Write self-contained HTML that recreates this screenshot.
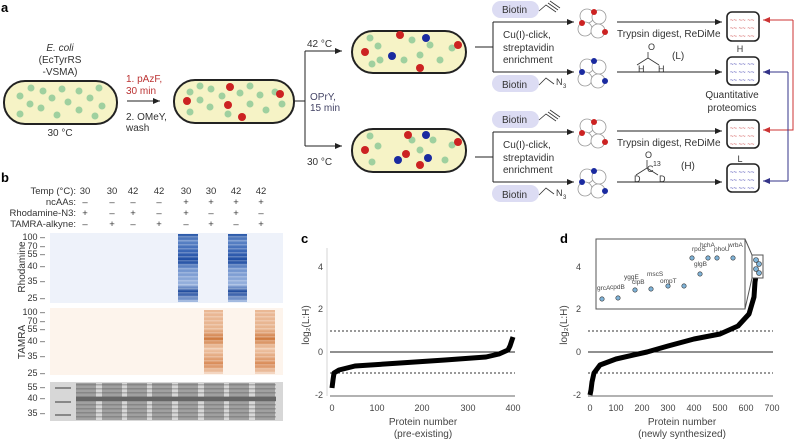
<!DOCTYPE html>
<html><head><meta charset="utf-8"><style>
html,body{margin:0;padding:0;background:#fff;}
svg{display:block;font-family:"Liberation Sans",sans-serif;}
</style></head><body>
<svg width="799" height="440" viewBox="0 0 799 440" xmlns="http://www.w3.org/2000/svg">
<defs>
<marker id="ar" markerWidth="8" markerHeight="8" refX="7" refY="4" orient="auto" markerUnits="userSpaceOnUse"><path d="M0,1 L7,4 L0,7z" fill="#222"/></marker>
<marker id="arR" markerWidth="8" markerHeight="8" refX="7" refY="4" orient="auto" markerUnits="userSpaceOnUse"><path d="M0,1 L7,4 L0,7z" fill="#c33"/></marker>
<marker id="arB" markerWidth="8" markerHeight="8" refX="7" refY="4" orient="auto" markerUnits="userSpaceOnUse"><path d="M0,1 L7,4 L0,7z" fill="#338"/></marker>
<pattern id="stripe" width="4" height="4" patternUnits="userSpaceOnUse"><rect width="4" height="1.5" fill="#fff" opacity=".25"/></pattern>
<pattern id="stripeD" width="4" height="4" patternUnits="userSpaceOnUse"><rect width="4" height="1.5" fill="#555" opacity=".35"/></pattern>
<linearGradient id="bl" x1="0" y1="0" x2="0" y2="1">
<stop offset="0" stop-color="#2a58a8"/><stop offset=".1" stop-color="#5d85c6"/><stop offset=".25" stop-color="#3a66b5"/><stop offset=".4" stop-color="#1c4aa0"/><stop offset=".5" stop-color="#6f92cc"/><stop offset=".75" stop-color="#98b2dd"/><stop offset=".85" stop-color="#1f4a9c"/><stop offset="1" stop-color="#9ab4de"/></linearGradient>
<linearGradient id="or" x1="0" y1="0" x2="0" y2="1">
<stop offset="0" stop-color="#eab895"/><stop offset=".3" stop-color="#e8b590"/><stop offset=".45" stop-color="#cf7a40"/><stop offset=".6" stop-color="#efc6a8"/><stop offset=".85" stop-color="#d98b58"/><stop offset="1" stop-color="#f3d4bd"/></linearGradient>
</defs>
<g font-weight="bold" font-size="13"><text x="1" y="12">a</text><text x="1" y="182">b</text><text x="301" y="243">c</text><text x="560" y="243">d</text></g>

<!-- panel a -->
<g font-size="10" fill="#333">
<text x="60" y="51" text-anchor="middle" font-style="italic">E. coli</text>
<text x="60" y="63" text-anchor="middle">(EcTyrRS</text>
<text x="60" y="75" text-anchor="middle">-VSMA)</text>
<text x="60" y="136" text-anchor="middle">30 °C</text>
<text x="126" y="82" fill="#b33">1. pAzF,</text>
<text x="126" y="94" fill="#b33">30 min</text>
<text x="126" y="120">2. OMeY,</text>
<text x="126" y="131">wash</text>
<text x="307" y="47">42 °C</text>
<text x="307" y="165">30 °C</text>
<text x="310" y="100" fill="#446">OPrY,</text>
<text x="310" y="111" fill="#446">15 min</text>
</g>
<line x1="127" y1="101" x2="160" y2="101" stroke="#222" marker-end="url(#ar)"/>
<rect x="4" y="81" width="113" height="43" rx="21" fill="#f6f3c6" stroke="#222" stroke-width="2"/>
<rect x="174" y="80" width="120" height="43" rx="21" fill="#f6f3c6" stroke="#222" stroke-width="2"/>
<g fill="#9fd09f">
<circle cx="20" cy="96" r="3.5"/><circle cx="31" cy="88" r="3.5"/><circle cx="30" cy="104" r="3.5"/><circle cx="43" cy="91" r="3.5"/><circle cx="41" cy="108" r="3.5"/><circle cx="52" cy="98" r="3.5"/><circle cx="62" cy="89" r="3.5"/><circle cx="68" cy="102" r="3.5"/><circle cx="79" cy="91" r="3.5"/><circle cx="79" cy="110" r="3.5"/><circle cx="90" cy="98" r="3.5"/><circle cx="99" cy="88" r="3.5"/><circle cx="102" cy="106" r="3.5"/><circle cx="20" cy="114" r="3.5"/><circle cx="57" cy="115" r="3.5"/><circle cx="95" cy="116" r="3.5"/>
<circle cx="190" cy="92" r="3.5"/><circle cx="200" cy="86" r="3.5"/><circle cx="200" cy="100" r="3.5"/><circle cx="211" cy="89" r="3.5"/><circle cx="210" cy="107" r="3.5"/><circle cx="222" cy="96" r="3.5"/><circle cx="240" cy="93" r="3.5"/><circle cx="250" cy="86" r="3.5"/><circle cx="250" cy="104" r="3.5"/><circle cx="260" cy="95" r="3.5"/><circle cx="266" cy="110" r="3.5"/><circle cx="275" cy="92" r="3.5"/><circle cx="282" cy="104" r="3.5"/><circle cx="190" cy="112" r="3.5"/><circle cx="228" cy="114" r="3.5"/>
</g>
<g fill="#cc2222"><circle cx="187" cy="101" r="4"/><circle cx="230" cy="87" r="4"/><circle cx="228" cy="105" r="4"/><circle cx="242" cy="117" r="4"/><circle cx="280" cy="94" r="4"/></g>
<path d="M294,101 H305 M305,51 V146 M305,51 H340 M305,146 H340" stroke="#222" fill="none"/>
<line x1="320" y1="51" x2="342" y2="51" stroke="#222" marker-end="url(#ar)"/>
<line x1="320" y1="146" x2="342" y2="146" stroke="#222" marker-end="url(#ar)"/>
<rect x="352" y="31" width="114" height="42" rx="21" fill="#f6f3c6" stroke="#222" stroke-width="2"/>
<rect x="352" y="129" width="114" height="43" rx="21" fill="#f6f3c6" stroke="#222" stroke-width="2"/>
<g fill="#9fd09f"><circle cx="370" cy="38" r="3.5"/><circle cx="378" cy="46" r="3.5"/><circle cx="372" cy="64" r="3.5"/><circle cx="380" cy="60" r="3.5"/><circle cx="412" cy="40" r="3.5"/><circle cx="420" cy="55" r="3.5"/><circle cx="430" cy="45" r="3.5"/><circle cx="440" cy="60" r="3.5"/><circle cx="452" cy="48" r="3.5"/><circle cx="404" cy="60" r="3.5"/>
<circle cx="370" cy="136" r="3.5"/><circle cx="378" cy="146" r="3.5"/><circle cx="372" cy="162" r="3.5"/><circle cx="412" cy="140" r="3.5"/><circle cx="420" cy="150" r="3.5"/><circle cx="433" cy="140" r="3.5"/><circle cx="445" cy="160" r="3.5"/><circle cx="452" cy="145" r="3.5"/></g>
<g fill="#cc2222"><circle cx="365" cy="52" r="4"/><circle cx="400" cy="35" r="4"/><circle cx="420" cy="68" r="4"/><circle cx="458" cy="45" r="4"/><circle cx="365" cy="150" r="4"/><circle cx="408" cy="135" r="4"/><circle cx="406" cy="154" r="4"/><circle cx="420" cy="165" r="4"/><circle cx="458" cy="142" r="4"/></g>
<g fill="#1a2aa0"><circle cx="392" cy="56" r="4"/><circle cx="426" cy="38" r="4"/><circle cx="426" cy="135" r="4"/><circle cx="428" cy="158" r="4"/><circle cx="398" cy="160" r="4"/></g>

<!-- biotin labels -->
<g font-size="10" fill="#333">
<rect x="492" y="1" width="47" height="17" rx="8.5" fill="#dcdcf3"/><text x="502" y="13">Biotin</text>
<rect x="492" y="75" width="47" height="17" rx="8.5" fill="#dcdcf3"/><text x="502" y="88">Biotin</text>
<rect x="492" y="111" width="47" height="17" rx="8.5" fill="#dcdcf3"/><text x="502" y="123">Biotin</text>
<rect x="492" y="185" width="47" height="17" rx="8.5" fill="#dcdcf3"/><text x="502" y="198">Biotin</text>
<text x="503" y="38">Cu(I)-click,</text><text x="503" y="51">streptavidin</text><text x="503" y="63">enrichment</text>
<text x="503" y="148">Cu(I)-click,</text><text x="503" y="161">streptavidin</text><text x="503" y="173">enrichment</text>
<text x="556" y="85" font-size="9">N</text><text x="563" y="88" font-size="6">3</text>
<text x="556" y="196" font-size="9">N</text><text x="563" y="199" font-size="6">3</text>
<text x="617" y="37">Trypsin digest, ReDiMe</text>
<text x="617" y="146">Trypsin digest, ReDiMe</text>
<text x="672" y="59">(L)</text><text x="681" y="169">(H)</text>
<text x="638" y="72" font-size="9">H</text><text x="658" y="72" font-size="9">H</text><text x="648" y="50" font-size="9">O</text>
<text x="634" y="182" font-size="9">D</text><text x="659" y="182" font-size="9">D</text><text x="645" y="158" font-size="9">O</text><text x="647" y="172" font-size="9">C</text><text x="653" y="166" font-size="7">13</text>
<text x="740" y="52" font-size="9" text-anchor="middle">H</text>
<text x="740" y="162" font-size="9" text-anchor="middle">L</text>
<text x="732" y="98" text-anchor="middle">Quantitative</text><text x="732" y="111" text-anchor="middle">proteomics</text>
</g>
<path d="M539,11 L546,5 L556,12 M548,3 L558,10 M550,1 L560,8" stroke="#333" fill="none" stroke-width=".8"/>
<path d="M539,120 L546,114 L556,121 M548,112 L558,119 M550,110 L560,117" stroke="#333" fill="none" stroke-width=".8"/>
<path d="M539,85 L546,78 L554,84 M539,195 L546,188 L554,194" stroke="#333" fill="none" stroke-width=".8"/>
<path d="M637,65 L648,58 L659,65 M648,58 V52 M636,175 L647,168 L658,175 M647,168 V160" stroke="#333" fill="none" stroke-width=".8"/>
<path d="M475,47 H493 M493,22 V72 M493,22 H573 M493,72 H573 M475,157 H493 M493,132 V182 M493,132 H573 M493,182 H573" stroke="#222" fill="none"/>
<line x1="560" y1="22" x2="574" y2="22" stroke="#222" marker-end="url(#ar)"/>
<line x1="560" y1="72" x2="574" y2="72" stroke="#222" marker-end="url(#ar)"/>
<line x1="560" y1="132" x2="574" y2="132" stroke="#222" marker-end="url(#ar)"/>
<line x1="560" y1="182" x2="574" y2="182" stroke="#222" marker-end="url(#ar)"/>
<line x1="617" y1="22" x2="722" y2="22" stroke="#222" marker-end="url(#ar)"/>
<line x1="617" y1="72" x2="722" y2="72" stroke="#222" marker-end="url(#ar)"/>
<line x1="617" y1="131" x2="722" y2="131" stroke="#222" marker-end="url(#ar)"/>
<line x1="617" y1="182" x2="722" y2="182" stroke="#222" marker-end="url(#ar)"/>
<g stroke="#999" fill="#fff" stroke-width=".8">
<circle cx="587" cy="16" r="7"/><circle cx="599" cy="17" r="7"/><circle cx="585" cy="29" r="7"/><circle cx="598" cy="31" r="7"/>
<circle cx="587" cy="66" r="7"/><circle cx="599" cy="67" r="7"/><circle cx="585" cy="79" r="7"/><circle cx="598" cy="81" r="7"/>
<circle cx="587" cy="126" r="7"/><circle cx="599" cy="127" r="7"/><circle cx="585" cy="139" r="7"/><circle cx="598" cy="141" r="7"/>
<circle cx="587" cy="176" r="7"/><circle cx="599" cy="177" r="7"/><circle cx="585" cy="189" r="7"/><circle cx="598" cy="191" r="7"/>
</g>
<g fill="#cc2222"><circle cx="594" cy="12" r="3"/><circle cx="582" cy="23" r="3"/><circle cx="605" cy="32" r="3"/><circle cx="594" cy="122" r="3"/><circle cx="582" cy="133" r="3"/><circle cx="605" cy="142" r="3"/></g>
<g fill="#1a2aa0"><circle cx="594" cy="61" r="3"/><circle cx="582" cy="72" r="3"/><circle cx="605" cy="81" r="3"/><circle cx="594" cy="171" r="3"/><circle cx="582" cy="182" r="3"/><circle cx="605" cy="191" r="3"/></g>
<g stroke="#222" stroke-width="1.6" fill="#fff">
<rect x="727" y="12" width="32" height="29" rx="5"/><rect x="727" y="57" width="32" height="28" rx="5"/>
<rect x="727" y="120" width="32" height="28" rx="5"/><rect x="727" y="164" width="32" height="28" rx="5"/>
</g>
<g font-size="6" fill="#c44"><text x="730" y="22">~~ ~~ ~~</text><text x="730" y="30">~~ ~~ ~~</text><text x="730" y="38">~~ ~~ ~~</text><text x="730" y="130">~~ ~~ ~~</text><text x="730" y="138">~~ ~~ ~~</text><text x="730" y="146">~~ ~~ ~~</text></g>
<g font-size="6" fill="#33a"><text x="730" y="66">~~ ~~ ~~</text><text x="730" y="74">~~ ~~ ~~</text><text x="730" y="82">~~ ~~ ~~</text><text x="730" y="174">~~ ~~ ~~</text><text x="730" y="182">~~ ~~ ~~</text><text x="730" y="190">~~ ~~ ~~</text></g>
<path d="M793,20 V130 H770" stroke="#c33" fill="none"/><line x1="793" y1="20" x2="763" y2="20" stroke="#c33" marker-end="url(#arR)"/><line x1="775" y1="130" x2="763" y2="130" stroke="#c33" marker-end="url(#arR)"/>
<path d="M788,72 V181" stroke="#338" fill="none"/><line x1="788" y1="72" x2="763" y2="72" stroke="#338" marker-end="url(#arB)"/><line x1="788" y1="181" x2="763" y2="181" stroke="#338" marker-end="url(#arB)"/>

<!-- panel b -->
<g font-size="9.5" fill="#333">
<text x="76" y="194" text-anchor="end">Temp (°C):</text>
<text x="76" y="205" text-anchor="end">ncAAs:</text>
<text x="76" y="216" text-anchor="end">Rhodamine-N3:</text>
<text x="76" y="227" text-anchor="end">TAMRA-alkyne:</text>
<g text-anchor="middle">
<text x="85" y="194">30</text><text x="112" y="194">30</text><text x="133" y="194">42</text><text x="159" y="194">42</text><text x="186" y="194">30</text><text x="211" y="194">30</text><text x="236" y="194">42</text><text x="261" y="194">42</text>
<text x="85" y="205">–</text><text x="112" y="205">–</text><text x="133" y="205">–</text><text x="159" y="205">–</text><text x="186" y="205">+</text><text x="211" y="205">+</text><text x="236" y="205">+</text><text x="261" y="205">+</text>
<text x="85" y="216">+</text><text x="112" y="216">–</text><text x="133" y="216">+</text><text x="159" y="216">–</text><text x="186" y="216">+</text><text x="211" y="216">–</text><text x="236" y="216">+</text><text x="261" y="216">–</text>
<text x="85" y="227">–</text><text x="112" y="227">+</text><text x="133" y="227">–</text><text x="159" y="227">+</text><text x="186" y="227">–</text><text x="211" y="227">+</text><text x="236" y="227">–</text><text x="261" y="227">+</text>
</g>
<text transform="translate(25,267) rotate(-90)" text-anchor="middle" font-size="10">Rhodamine</text>
<text transform="translate(25,342) rotate(-90)" text-anchor="middle" font-size="10">TAMRA</text>
<g text-anchor="end" font-size="9">
<text x="45" y="240">100 –</text><text x="45" y="249">70 –</text><text x="45" y="257">55 –</text><text x="45" y="269">40 –</text><text x="45" y="284">35 –</text><text x="45" y="301">25 –</text>
<text x="45" y="315">100 –</text><text x="45" y="324">70 –</text><text x="45" y="332">55 –</text><text x="45" y="344">40 –</text><text x="45" y="359">35 –</text><text x="45" y="376">25 –</text>
<text x="45" y="390">55 –</text><text x="45" y="401">40 –</text><text x="45" y="416">35 –</text>
</g>
</g>
<rect x="50" y="233" width="233" height="70" fill="#eef2fa"/>
<rect x="178" y="234" width="20" height="68" fill="url(#bl)"/><rect x="178" y="234" width="20" height="68" fill="url(#stripe)"/>
<rect x="228" y="234" width="19" height="68" fill="url(#bl)"/><rect x="228" y="234" width="19" height="68" fill="url(#stripe)"/>
<rect x="50" y="308" width="233" height="67" fill="#fdf4ec"/>
<rect x="204" y="310" width="19" height="64" fill="url(#or)"/><rect x="204" y="310" width="19" height="64" fill="url(#stripe)"/>
<rect x="255" y="310" width="20" height="64" fill="url(#or)"/><rect x="255" y="310" width="20" height="64" fill="url(#stripe)"/>
<rect x="50" y="382" width="233" height="39" fill="#d7d7d7"/>
<g fill="#a0a0a0"><rect x="76" y="383" width="20" height="37"/><rect x="102" y="383" width="20" height="37"/><rect x="127" y="383" width="20" height="37"/><rect x="152" y="383" width="20" height="37"/><rect x="178" y="383" width="20" height="37"/><rect x="204" y="383" width="20" height="37"/><rect x="229" y="383" width="20" height="37"/><rect x="255" y="383" width="20" height="37"/></g>
<rect x="76" y="383" width="200" height="37" fill="url(#stripeD)"/>
<rect x="76" y="397" width="200" height="4" fill="#666"/>
<rect x="55" y="387" width="16" height="2" fill="#888"/><rect x="55" y="401" width="16" height="2" fill="#888"/><rect x="55" y="414" width="16" height="2" fill="#888"/>

<!-- panel c/d -->
<g font-size="9" fill="#444" text-anchor="middle">
<text x="323" y="270" text-anchor="end">4</text><text x="323" y="312" text-anchor="end">2</text><text x="323" y="355" text-anchor="end">0</text><text x="323" y="398" text-anchor="end">-2</text>
<text x="332" y="411">0</text><text x="377" y="411">100</text><text x="422" y="411">200</text><text x="468" y="411">300</text><text x="513" y="411">400</text>
<text x="423" y="425" font-size="10">Protein number</text><text x="423" y="437" font-size="10">(pre-existing)</text>
<text transform="translate(309,325) rotate(-90)" font-size="10">log₂(L:H)</text>
<text x="581" y="270" text-anchor="end">4</text><text x="581" y="312" text-anchor="end">2</text><text x="581" y="355" text-anchor="end">0</text><text x="581" y="398" text-anchor="end">-2</text>
<text x="590" y="411">0</text><text x="616" y="411">100</text><text x="642" y="411">200</text><text x="668" y="411">300</text><text x="694" y="411">400</text><text x="720" y="411">500</text><text x="746" y="411">600</text><text x="772" y="411">700</text>
<text x="682" y="425" font-size="10">Protein number</text><text x="682" y="437" font-size="10">(newly synthesized)</text>
<text transform="translate(567,325) rotate(-90)" font-size="10">log₂(L:H)</text>
</g>
<g stroke="#333" stroke-width=".8">
<line x1="330" y1="396" x2="515" y2="396"/><line x1="588" y1="396" x2="773" y2="396"/>
<line x1="327" y1="248" x2="327" y2="396" stroke="#ccc"/>
</g>
<line x1="330" y1="352" x2="515" y2="352" stroke="#222"/>
<line x1="330" y1="331" x2="515" y2="331" stroke="#333" stroke-dasharray="2,2"/>
<line x1="330" y1="373" x2="515" y2="373" stroke="#333" stroke-dasharray="2,2"/>
<polyline points="332,388 333,380 334,373 339,370 355,366 400,363 445,360 486,357 499,354 508,350 510,346 513,337" fill="none" stroke="#000" stroke-width="5" stroke-linejoin="round"/>
<line x1="588" y1="352" x2="773" y2="352" stroke="#222"/>
<line x1="588" y1="331" x2="773" y2="331" stroke="#333" stroke-dasharray="2,2"/>
<line x1="588" y1="373" x2="773" y2="373" stroke="#333" stroke-dasharray="2,2"/>
<polyline points="590,395 591,390 592,382 594,373 600,365 616,359 647,352 668,346 694,339 720,334 738,326 749,314 754,297 755,282 758,263" fill="none" stroke="#000" stroke-width="5" stroke-linejoin="round"/>
<rect x="596" y="239" width="149" height="70" fill="#fff" stroke="#555"/>
<path d="M745,239 L752,255 M745,309 L752,278" stroke="#555" fill="none"/>
<rect x="752" y="255" width="11" height="23" fill="#fff" stroke="#555"/>
<g fill="#7fb3d8" stroke="#333" stroke-width=".6"><circle cx="756" cy="260" r="2.5"/><circle cx="759" cy="264" r="2.5"/><circle cx="756" cy="269" r="2.5"/><circle cx="759" cy="273" r="2.5"/>
<circle cx="602" cy="299" r="2.2"/><circle cx="618" cy="298" r="2.2"/><circle cx="635" cy="290" r="2.2"/><circle cx="651" cy="289" r="2.2"/><circle cx="668" cy="286" r="2.2"/><circle cx="684" cy="286" r="2.2"/><circle cx="700" cy="274" r="2.2"/><circle cx="717" cy="258" r="2.2"/><circle cx="733" cy="258" r="2.2"/><circle cx="708" cy="258" r="2.2"/><circle cx="692" cy="258" r="2.2"/></g>
<g font-size="6.5" fill="#444">
<text x="597" y="290">grcA</text><text x="610" y="289">cpdB</text><text x="624" y="279">yggE</text><text x="632" y="284">clpB</text><text x="647" y="276">mscS</text><text x="660" y="283">ompT</text><text x="694" y="266">glgB</text><text x="692" y="251">rpoS</text><text x="700" y="247">hchA</text><text x="714" y="251">phoU</text><text x="728" y="247">wrbA</text>
</g>
</svg>
</body></html>
